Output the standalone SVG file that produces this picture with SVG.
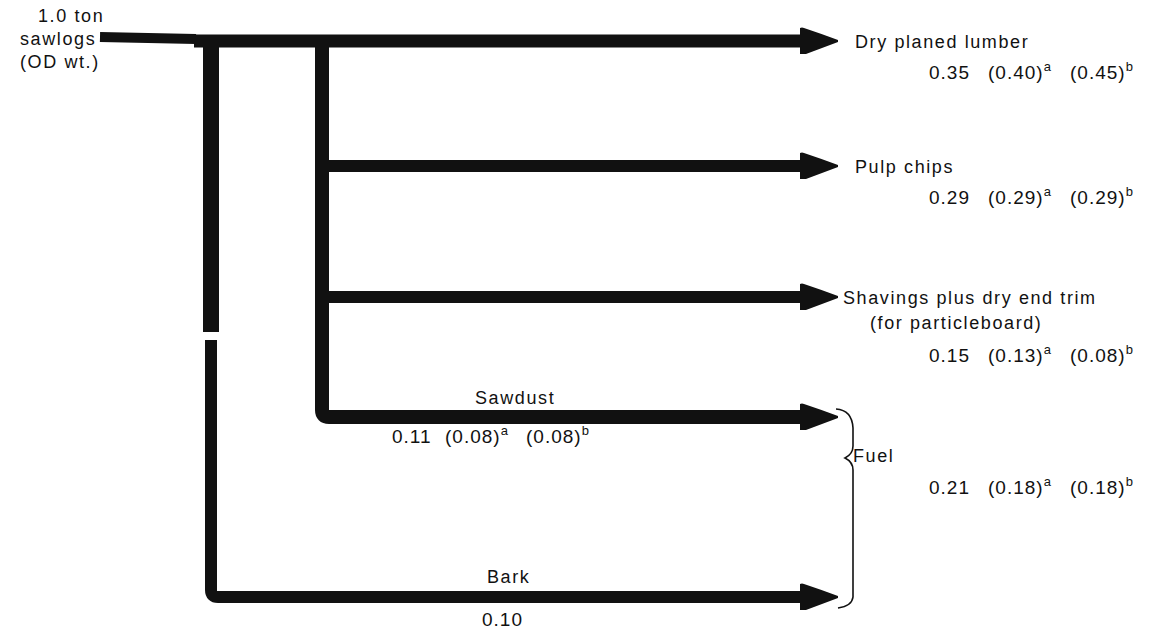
<svg xmlns="http://www.w3.org/2000/svg" width="1153" height="630" viewBox="0 0 1153 630">
<style>
text{font-family:"Liberation Sans",Arial,sans-serif;font-size:18px;fill:#111;letter-spacing:1.6px}
.num{font-size:19px;letter-spacing:1px}
.sup{font-size:13px;letter-spacing:0;fill:#111}
.flow{fill:none;stroke:#111;stroke-linejoin:round}
</style>
<defs>
<marker id="ah" markerUnits="userSpaceOnUse" markerWidth="42" markerHeight="32" refX="1" refY="15" orient="auto">
<path d="M0,2 Q2,1 4,2 Q22,8 38,14 L38,16 Q22,22 6,28 L0,28 Z" fill="#111"/>
</marker>
</defs>
<rect width="1153" height="630" fill="#fff"/>
<g id="connectors">
<path class="flow" d="M100,37 L196,39" stroke-width="10"/>
<path class="flow" d="M194,41 L801,41" stroke-width="13" marker-end="url(#ah)"/>
<path class="flow" d="M211,41 L211,332" stroke-width="16"/>
<path class="flow" d="M211,340 L211,590 Q211,597 218,597 L801,597" stroke-width="12" marker-end="url(#ah)"/>
<path class="flow" d="M322,41 L322,410 Q322,417 329,417 L801,417" stroke-width="14" marker-end="url(#ah)"/>
<path class="flow" d="M322,166 L801,166" stroke-width="12" marker-end="url(#ah)"/>
<path class="flow" d="M322,297 L801,297" stroke-width="12" marker-end="url(#ah)"/>
<path d="M836,409 Q852,410 853,428 L853,446 Q853,454 845,458 Q853,462 853,470 L853,597 Q852,606 838,608" fill="none" stroke="#111" stroke-width="1.6"/>
</g>
<g id="source">
<text x="38" y="22">1.0 ton</text>
<text x="20" y="45">sawlogs</text>
<text x="20" y="68">(OD wt.)</text>
</g>
<g id="lumber">
<text x="855" y="48">Dry planed lumber</text>
<text class="num" x="929" y="79">0.35</text>
<text class="num" x="988" y="79">(0.40)<tspan class="sup" dy="-8">a</tspan></text>
<text class="num" x="1070" y="79">(0.45)<tspan class="sup" dy="-8">b</tspan></text>
</g>
<g id="pulp">
<text x="855" y="173">Pulp chips</text>
<text class="num" x="929" y="204">0.29</text>
<text class="num" x="988" y="204">(0.29)<tspan class="sup" dy="-8">a</tspan></text>
<text class="num" x="1070" y="204">(0.29)<tspan class="sup" dy="-8">b</tspan></text>
</g>
<g id="shavings">
<text x="843" y="304">Shavings plus dry end trim</text>
<text x="870" y="329">(for particleboard)</text>
<text class="num" x="929" y="362">0.15</text>
<text class="num" x="988" y="362">(0.13)<tspan class="sup" dy="-8">a</tspan></text>
<text class="num" x="1070" y="362">(0.08)<tspan class="sup" dy="-8">b</tspan></text>
</g>
<g id="sawdust">
<text x="475" y="404">Sawdust</text>
<text class="num" x="392" y="443">0.11</text>
<text class="num" x="445" y="443">(0.08)<tspan class="sup" dy="-8">a</tspan></text>
<text class="num" x="526" y="443">(0.08)<tspan class="sup" dy="-8">b</tspan></text>
</g>
<g id="fuel">
<text x="853" y="462">Fuel</text>
<text class="num" x="929" y="494">0.21</text>
<text class="num" x="988" y="494">(0.18)<tspan class="sup" dy="-8">a</tspan></text>
<text class="num" x="1070" y="494">(0.18)<tspan class="sup" dy="-8">b</tspan></text>
</g>
<g id="bark">
<text x="487" y="583">Bark</text>
<text class="num" x="482" y="626">0.10</text>
</g>
</svg>
